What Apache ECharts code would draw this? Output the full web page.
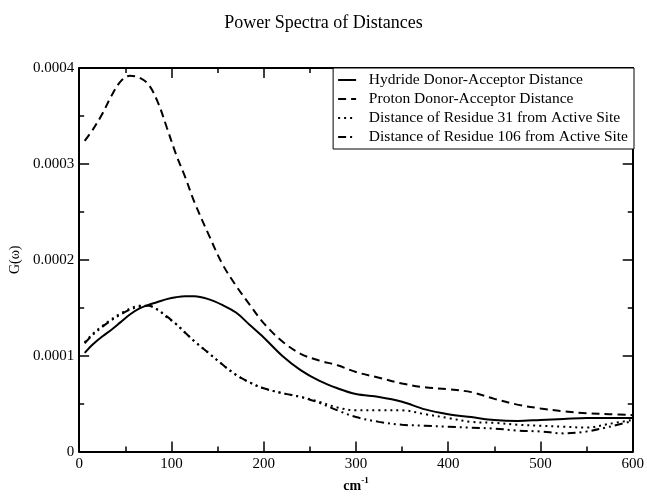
<!DOCTYPE html>
<html><head><meta charset="utf-8">
<script src="https://cdn.jsdelivr.net/npm/echarts@6/dist/echarts.min.js"></script>
<style>html,body{margin:0;padding:0;background:#fff}#c{width:647px;height:498px}</style>
</head><body><div id="c"></div>
<script>
const xs = [6, 15, 25, 35, 45, 55, 65, 75, 85, 95, 105, 115, 125, 140, 155, 170, 185, 200, 220, 240, 260, 280, 300, 325, 350, 375, 400, 425, 450, 475, 500, 525, 550, 575, 600];
const hydride = [1.03,1.12,1.20,1.27,1.35,1.43,1.49,1.53,1.56,1.59,1.61,1.62,1.62,1.59,1.53,1.45,1.32,1.19,1.00,0.85,0.74,0.66,0.60,0.57,0.52,0.44,0.39,0.36,0.33,0.32,0.33,0.34,0.35,0.35,0.35];
const proton = [3.24,3.36,3.52,3.71,3.86,3.92,3.90,3.83,3.65,3.38,3.10,2.86,2.60,2.27,1.96,1.73,1.53,1.34,1.15,1.02,0.95,0.90,0.83,0.77,0.71,0.67,0.65,0.62,0.55,0.49,0.45,0.42,0.40,0.39,0.38];
const res31 = [1.14,1.23,1.31,1.38,1.44,1.49,1.52,1.52,1.48,1.40,1.33,1.24,1.15,1.03,0.91,0.80,0.72,0.66,0.61,0.57,0.52,0.46,0.43,0.43,0.43,0.39,0.35,0.31,0.30,0.28,0.27,0.26,0.25,0.29,0.33];
const res106 = [1.13,1.22,1.30,1.37,1.43,1.48,1.51,1.52,1.48,1.41,1.33,1.24,1.15,1.03,0.91,0.80,0.72,0.66,0.61,0.57,0.51,0.43,0.36,0.31,0.28,0.27,0.26,0.25,0.24,0.22,0.21,0.19,0.21,0.26,0.32];
const names = ['Hydride Donor-Acceptor Distance','Proton Donor-Acceptor Distance','Distance of Residue 31 from Active Site','Distance of Residue 106 from Active Site'];
const SCALE = 1e-4;
const font = 'Liberation Serif';
function pairs(arr){ return xs.map((x,i)=>[x, arr[i]*SCALE]); }
const chart = echarts.init(document.getElementById('c'));
function axisCommon(){ return {
  axisLine:{show:true,onZero:false,lineStyle:{color:'#000',width:2}},
  axisTick:{show:true,inside:true,length:10,lineStyle:{color:'#000',width:1.5}},
  minorTick:{show:true,splitNumber:2,length:5,lineStyle:{color:'#000',width:1.5}},
  splitLine:{show:false}
};}
function mkSeries(name, arr, dash){
  return {name, type:'line', data:pairs(arr), smooth:0.35, symbol:'none',
    lineStyle:{color:'#000', width:2, type: dash}, itemStyle:{color:'#000'}};
}
chart.setOption({
  animation:false,
  backgroundColor:'#fff',
  title:{text:'Power Spectra of Distances', left:'center', top:9,
    textStyle:{fontFamily:font, fontSize:18, fontWeight:'normal', color:'#000'}},
  legend:{right:13, top:68, orient:'vertical', itemWidth:18, itemHeight:10, itemGap:3,
    borderColor:'#000', borderWidth:1, padding:[4,6,4,4], backgroundColor:'#fff',
    itemStyle:{opacity:0},
    formatter: n => '  ' + n,
    textStyle:{fontFamily:font, fontSize:15.5, color:'#000'}, data:names},
  grid:{left:79, right:12, top:68, bottom:41},
  xAxis:[
    Object.assign({type:'value', min:0, max:600, interval:100, position:'bottom',
      name:'cm{sup|-1}', nameLocation:'middle', nameGap:22,
      nameTextStyle:{fontFamily:font, fontSize:14, fontWeight:'bold', color:'#000',
        rich:{sup:{fontFamily:font, fontSize:9, fontWeight:'bold', verticalAlign:'top', padding:[0,0,10,0], color:'#000'}}},
      axisLabel:{fontFamily:font, fontSize:15, color:'#000', margin:5}}, axisCommon()),
    Object.assign({type:'value', min:0, max:600, interval:100, position:'top', axisLabel:{show:false}}, axisCommon())
  ],
  yAxis:[
    Object.assign({type:'value', min:0, max:0.0004, interval:0.0001, position:'left',
      name:'G(ω)', nameLocation:'middle', nameGap:57, nameRotate:90,
      nameTextStyle:{fontFamily:font, fontSize:14, color:'#000'},
      axisLabel:{fontFamily:font, fontSize:15, color:'#000', margin:5,
        formatter:v=> v===0 ? '0' : v.toFixed(4)}}, axisCommon()),
    Object.assign({type:'value', min:0, max:0.0004, interval:0.0001, position:'right', axisLabel:{show:false}}, axisCommon())
  ],
  series:[
    mkSeries(names[0], hydride, 'solid'),
    mkSeries(names[1], proton, [8,5]),
    mkSeries(names[2], res31, [2,4]),
    mkSeries(names[3], res106, [8,4,2,4,2,4])
  ]
});
</script></body></html>
